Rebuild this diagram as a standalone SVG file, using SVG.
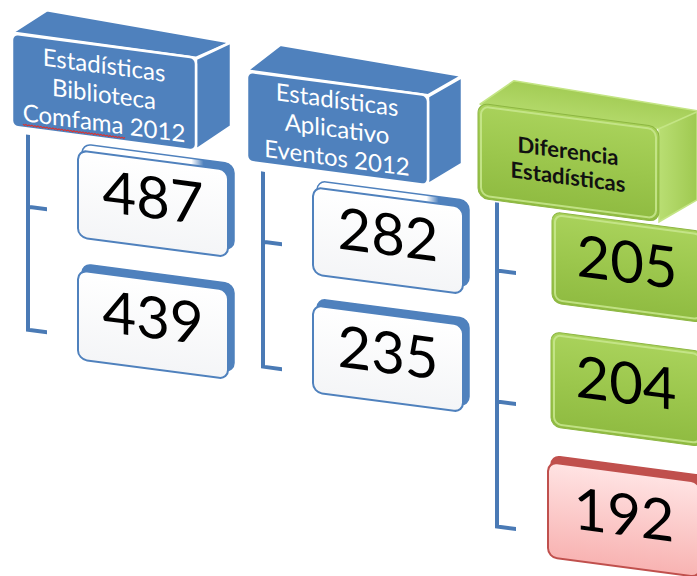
<svg xmlns="http://www.w3.org/2000/svg" width="697" height="576" viewBox="0 0 697 576">
  <defs>
    <linearGradient id="gBlueFront" x1="0" y1="0" x2="0" y2="1">
      <stop offset="0" stop-color="#5589C6"/>
      <stop offset="1" stop-color="#4B7CB8"/>
    </linearGradient>
    <linearGradient id="gWhite" x1="0" y1="0" x2="0" y2="1">
      <stop offset="0" stop-color="#FFFFFF"/>
      <stop offset="1" stop-color="#F4F5F7"/>
    </linearGradient>
    <linearGradient id="gExtFade" x1="0" y1="0" x2="1" y2="0">
      <stop offset="0" stop-color="#FFFFFF"/>
      <stop offset="0.72" stop-color="#FFFFFF"/>
      <stop offset="0.8" stop-color="#4F81BD"/>
      <stop offset="1" stop-color="#4F81BD"/>
    </linearGradient>
    <linearGradient id="gGreenFront" x1="0" y1="0" x2="0" y2="1">
      <stop offset="0" stop-color="#A9D25B"/>
      <stop offset="0.5" stop-color="#9CC74D"/>
      <stop offset="1" stop-color="#8FBB41"/>
    </linearGradient>
    <linearGradient id="gGreenTop" x1="0" y1="0" x2="0" y2="1">
      <stop offset="0" stop-color="#A3CC55"/>
      <stop offset="1" stop-color="#B3D96A"/>
    </linearGradient>
    <linearGradient id="gGreenSide" x1="0" y1="0" x2="1" y2="0">
      <stop offset="0" stop-color="#B9DE73"/>
      <stop offset="1" stop-color="#9FC950"/>
    </linearGradient>
    <linearGradient id="gPink" x1="0" y1="0" x2="0" y2="1">
      <stop offset="0" stop-color="#FFE3E3"/>
      <stop offset="1" stop-color="#F8B3B2"/>
    </linearGradient>
    <style>
      .face3d { fill: #4F81BD; stroke: #FFFFFF; stroke-width: 2.5; stroke-linejoin: round; }
      .hdr { font-family: Lato, "Open Sans", "Liberation Sans", sans-serif; font-size: 24px; fill: #FFFFFF; text-anchor: middle; }
      .hdrG { font-family: Lato, "Open Sans", "Liberation Sans", sans-serif; font-size: 22px; font-weight: bold; fill: #111111; text-anchor: middle; }
      .num { font-family: Lato, "Open Sans", "Liberation Sans", sans-serif; font-size: 58px; fill: #000000; text-anchor: middle; }
      .ext { fill: #4F81BD; stroke: #4F81BD; stroke-width: 1.5; }
      .extFade { fill: url(#gExtFade); stroke: #4F81BD; stroke-width: 1.5; }
      .card { fill: url(#gWhite); stroke: #4F81BD; stroke-width: 2; }
      .gcard { fill: url(#gGreenFront); stroke: #8DB642; stroke-width: 1; }
      .gbevel { fill: none; stroke: #C9E88F; stroke-width: 2; opacity: 0.85; }
      .link { fill: none; stroke: #4A7AB5; stroke-width: 4; }
    </style>
  </defs>

  <!-- the whole chart sits on a slight perspective slant -->
  <g transform="matrix(1,0.1317,0,1,0,0)">

    <!-- bracket connectors -->
    <g id="connectors">
      <path class="link" d="M28,131 V326 H47 M28,203 H47"/>
      <path class="link" d="M263,137 V332 H282 M263,207 H282"/>
      <path class="link" d="M497,137 V461 H516 M497,205 H516 M497,336 H516"/>
    </g>

    <!-- column 1 header -->
    <g id="hdr-biblioteca">
      <polygon class="face3d" points="12,31 47,4 231,12 196,32"/>
      <polygon class="face3d" points="196,33 231,12 231,96 196,124"/>
      <rect class="face3d" x="12" y="32" width="184" height="93" rx="6"/>
      <text class="hdr" x="104" y="60">Estadísticas</text>
      <text class="hdr" x="104" y="89">Biblioteca</text>
      <text class="hdr" x="104" y="118">Comfama 2012</text>
      <path fill="none" stroke="#E0302A" stroke-width="1" d="M23,121 l1.5,1.2 1.5,-1.2 1.5,1.2 1.5,-1.2 1.5,1.2 1.5,-1.2 1.5,1.2 1.5,-1.2 1.5,1.2 1.5,-1.2 1.5,1.2 1.5,-1.2 1.5,1.2 1.5,-1.2 1.5,1.2 1.5,-1.2 1.5,1.2 1.5,-1.2 1.5,1.2 1.5,-1.2 1.5,1.2 1.5,-1.2 1.5,1.2 1.5,-1.2 1.5,1.2 1.5,-1.2 1.5,1.2 1.5,-1.2 1.5,1.2 1.5,-1.2 1.5,1.2 1.5,-1.2 1.5,1.2 1.5,-1.2 1.5,1.2 1.5,-1.2 1.5,1.2 1.5,-1.2 1.5,1.2 1.5,-1.2 1.5,1.2 1.5,-1.2 1.5,1.2 1.5,-1.2 1.5,1.2 1.5,-1.2 1.5,1.2 1.5,-1.2 1.5,1.2 1.5,-1.2 1.5,1.2 1.5,-1.2 1.5,1.2 1.5,-1.2 1.5,1.2 1.5,-1.2 1.5,1.2 1.5,-1.2 1.5,1.2 1.5,-1.2 1.5,1.2 1.5,-1.2 1.5,1.2 1.5,-1.2 1.5,1.2 1.5,-1.2 1.5,1.2 1.5,-1.2"/>
    </g>

    <g id="n487">
      <rect class="extFade" x="82" y="133" width="152" height="86" rx="9"/>
      <rect class="card" x="78" y="140" width="150" height="87" rx="9"/>
      <text class="num" x="153" y="198">487</text>
    </g>
    <g id="n439">
      <rect class="ext" x="82" y="253" width="152" height="88" rx="9"/>
      <rect class="card" x="78" y="260" width="150" height="89" rx="9"/>
      <text class="num" x="153" y="318">439</text>
    </g>

    <!-- column 2 header -->
    <g id="hdr-aplicativo">
      <polygon class="face3d" points="247,38 280,8 462,15 428,39"/>
      <polygon class="face3d" points="428,40 462,16 462,103 428,128"/>
      <rect class="face3d" x="247" y="39" width="181" height="90" rx="6"/>
      <text class="hdr" x="337" y="64">Estadísticas</text>
      <text class="hdr" x="337" y="93">Aplicativo</text>
      <text class="hdr" x="337" y="122">Eventos 2012</text>
    </g>

    <g id="n282">
      <rect class="extFade" x="317" y="139" width="152" height="86" rx="9"/>
      <rect class="card" x="313" y="146" width="150" height="87" rx="9"/>
      <text class="num" x="388" y="204">282</text>
    </g>
    <g id="n235">
      <rect class="ext" x="317" y="257" width="152" height="87" rx="9"/>
      <rect class="card" x="313" y="264" width="150" height="87" rx="9"/>
      <text class="num" x="388" y="322">235</text>
    </g>

    <!-- column 3 header -->
    <g id="hdr-diferencia">
      <polygon points="480,41 514,13 697,19 697,25 659,42" fill="url(#gGreenTop)" stroke="#C4E585" stroke-width="1.5" stroke-linejoin="round"/>
      <polygon points="659,42 697,20 697,108 659,135" fill="url(#gGreenSide)" stroke="#C4E585" stroke-width="1.5"/>
      <rect x="478" y="40" width="181" height="95" rx="10" fill="url(#gGreenFront)" stroke="#8DB642" stroke-width="1"/>
      <rect class="gbevel" x="481" y="43" width="175" height="89" rx="8"/>
      <text class="hdrG" x="568" y="84">Diferencia</text>
      <text class="hdrG" x="568" y="110">Estadísticas</text>
    </g>

    <g id="n205">
      <rect class="gcard" x="552" y="139" width="152" height="91" rx="9"/>
      <rect class="gbevel" x="555" y="142" width="146" height="85" rx="7"/>
      <text class="num" x="627" y="200">205</text>
    </g>
    <g id="n204">
      <rect class="gcard" x="551" y="259" width="152" height="95" rx="9"/>
      <rect class="gbevel" x="554" y="262" width="146" height="89" rx="7"/>
      <text class="num" x="626" y="321">204</text>
    </g>
    <g id="n192">
      <rect x="551" y="383" width="154" height="95" rx="9" fill="#C0504D" stroke="#C0504D" stroke-width="1.5"/>
      <rect x="548" y="390" width="152" height="95" rx="9" fill="url(#gPink)" stroke="#C0504D" stroke-width="2"/>
      <text class="num" x="624" y="453">192</text>
    </g>
  </g>
</svg>
